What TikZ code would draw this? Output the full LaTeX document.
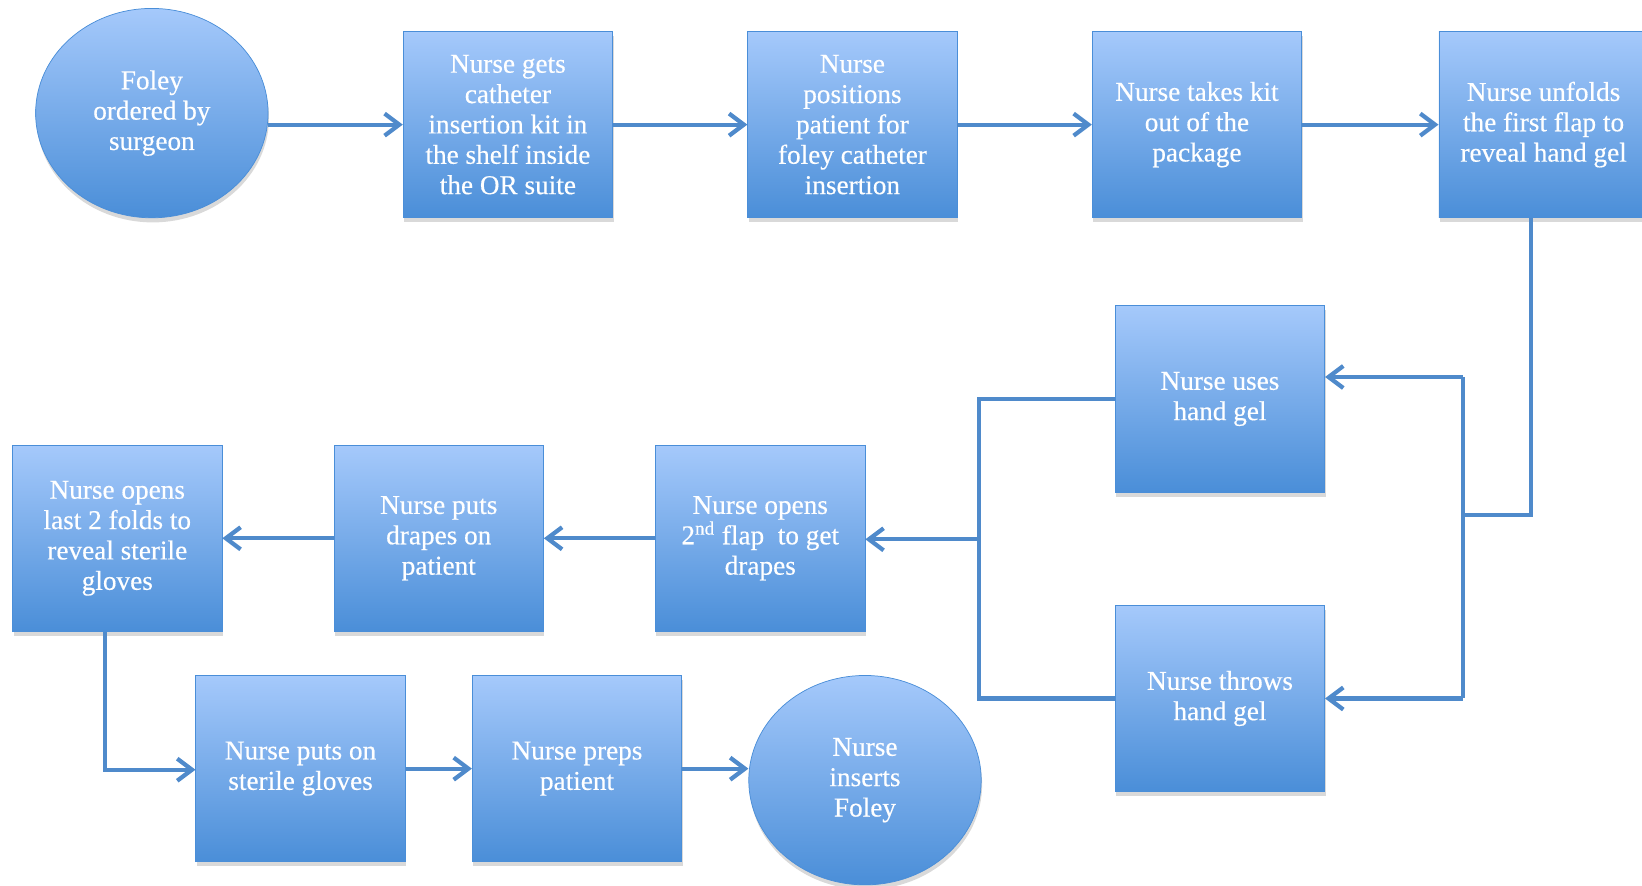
\documentclass[tikz,border=0pt]{standalone}
\usepackage{fontspec}
\setmainfont{Liberation Serif}
\newfontface\flowfont{Liberation Serif}[FakeBold=0.4]
\usetikzlibrary{shapes.geometric,arrows.meta,shadows}
\definecolor{flowTop}{HTML}{A5C9FB}
\definecolor{flowBot}{HTML}{4A8ED8}
\definecolor{flowLine}{HTML}{4F8ACB}
\tikzset{
  flowbox/.style={rectangle, minimum width=4cm, minimum height=3.56cm, inner sep=2pt,
    top color=flowTop, bottom color=flowBot, draw=flowBot, thin, align=center, text=white,
    font=\flowfont\fontsize{14.8}{16.5}\selectfont,
    drop shadow={opacity=0.3, shadow xshift=0.5pt, shadow yshift=-2.5pt}},
  flowoval/.style={flowbox, ellipse, minimum width=4.44cm, minimum height=4cm},
  flowline/.style={draw=flowLine, line width=2.3pt},
  flowarrow/.style={flowline, -{Straight Barb[length=8pt,width=12pt]}}
}
\newcommand{\drawbox}{\node[flowbox]}
\newcommand{\drawoval}{\node[flowoval]}
\newcommand{\drawdummy}{\coordinate}

\begin{document}
\begin{tikzpicture}[x=0.02cm, y=-0.02cm]
\useasboundingbox (0,0) rectangle (1568,846);
%top row
\drawoval (foley) at (145,108) {Foley\\ordered by\\surgeon};
\drawbox (getsKit) at (485,119) {Nurse gets\\catheter\\insertion kit in\\the shelf inside\\the OR suite};
\drawbox (positions) at (814,119) {Nurse\\positions\\patient for\\foley catheter\\insertion};
\drawbox (takesKit) at (1143,119) {Nurse takes kit\\out of the\\package};
\drawbox (unfolds) at (1474,119) {Nurse unfolds\\the first flap to\\reveal hand gel};

\draw[flowarrow] (foley.east |- getsKit) to (getsKit);
\draw[flowarrow] (getsKit) to (positions);
\draw[flowarrow] (positions) to (takesKit);
\draw[flowarrow] (takesKit) to (unfolds);

%hand gel branch
\drawbox (usesGel) at (1165,381) {Nurse uses\\hand gel};
\drawbox (throwsGel) at (1165,667) {Nurse throws\\hand gel};
\drawdummy (unfoldsTurn) at (1462,492);
\drawdummy (gelJoin) at (1397,492);
\drawdummy (gelTop) at (1397,360);
\drawdummy (gelBot) at (1397,667);
\drawdummy (gelUpLeft) at (935,381);
\drawdummy (gelLowLeft) at (935,667);
\drawdummy (gelMerge) at (935,515);

\draw[flowline] (unfolds.south -| unfoldsTurn) to (unfoldsTurn) to (gelJoin);
\draw[flowline] (gelTop) to (gelBot);
\draw[flowarrow] (gelTop) to (gelTop -| usesGel.east);
\draw[flowarrow] (gelBot) to (throwsGel);
\draw[flowline] (usesGel) to (gelUpLeft) to (gelLowLeft) to (throwsGel);

%middle row
\drawbox (opensFlap) at (726,514) {Nurse opens\\2\textsuperscript{nd} flap\ \ to get\\drapes};
\drawbox (putsDrapes) at (419,514) {Nurse puts\\drapes on\\patient};
\drawbox (opensFolds) at (112,514) {Nurse opens\\last 2 folds to\\reveal sterile\\gloves};

\draw[flowarrow] (gelMerge) to (gelMerge -| opensFlap.east);
\draw[flowarrow] (opensFlap) to (putsDrapes);
\draw[flowarrow] (putsDrapes) to (opensFolds);

%bottom row
\drawbox (putsGloves) at (287,734) {Nurse puts on\\sterile gloves};
\drawbox (prepsPatient) at (551,734) {Nurse preps\\patient};
\drawoval (inserts) at (826,745) {Nurse\\inserts\\Foley};
\drawdummy (foldsTurn) at (100,735);

\draw[flowarrow] (opensFolds.south -| foldsTurn) to (foldsTurn) to (foldsTurn -| putsGloves.west);
\draw[flowarrow] (putsGloves) to (prepsPatient);
\draw[flowarrow] (prepsPatient) to (prepsPatient -| inserts.west);

\end{tikzpicture}
\end{document}
